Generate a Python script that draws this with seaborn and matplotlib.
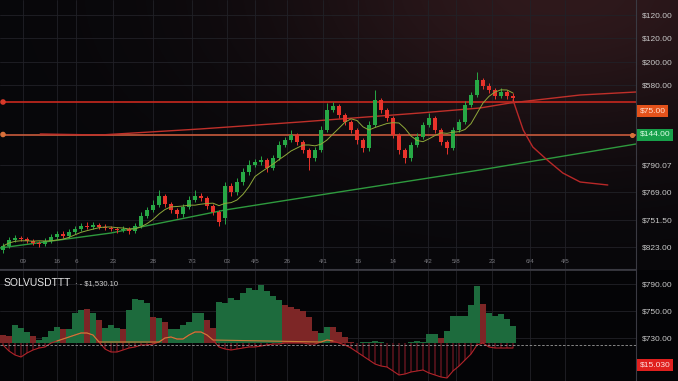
import numpy as np
import pandas as pd
import matplotlib
matplotlib.use("Agg")
import matplotlib.pyplot as plt
import seaborn as sns
from matplotlib.transforms import blended_transform_factory as btf

# ---------------- data (price levels in chart units) ----------------
opens = [18, 22, 28, 30, 29, 27, 25, 24, 27, 31,
         34, 32, 36, 39, 42, 41, 43, 41, 40, 39,
         38, 39, 37, 42, 52, 58, 63, 72, 64, 58,
         54, 61, 68, 72, 70, 62, 56, 50, 82, 76,
         86, 96, 103, 106, 108, 100, 110, 123, 128, 133,
         126, 118, 110, 118, 138, 158, 162, 153, 146, 138,
         128, 120, 143, 168, 158, 150, 133, 118, 110, 123,
         131, 143, 150, 138, 126, 120, 138, 146, 163, 173,
         188, 182, 178, 172, 176, 172]
closes = [22, 28, 30, 29, 27, 25, 24, 27, 31, 34,
          32, 36, 39, 42, 41, 43, 41, 40, 39, 38,
          39, 37, 42, 52, 58, 63, 72, 64, 58, 54,
          61, 68, 72, 70, 62, 56, 46, 82, 76, 86,
          96, 103, 106, 108, 100, 110, 123, 128, 133, 126,
          118, 110, 118, 138, 158, 162, 153, 146, 138, 128,
          120, 143, 168, 158, 150, 133, 118, 110, 123, 131,
          143, 150, 138, 126, 120, 138, 146, 163, 173, 188,
          182, 178, 172, 176, 172, 170]
highs = [25, 31, 33, 32, 31, 29, 27, 30, 34, 37,
         37, 39, 42, 45, 46, 46, 45, 44, 42, 41,
         42, 41, 45, 56, 61, 68, 78, 74, 66, 60,
         64, 72, 78, 75, 72, 64, 58, 86, 85, 90,
         100, 108, 109, 112, 110, 113, 127, 131, 138, 135,
         128, 120, 121, 142, 165, 166, 164, 155, 148, 140,
         130, 147, 178, 170, 160, 152, 135, 120, 126, 135,
         146, 155, 152, 140, 128, 141, 149, 167, 176, 196,
         190, 185, 180, 180, 178, 175]
lows = [15, 20, 26, 27, 25, 23, 21, 22, 25, 29,
        30, 30, 34, 37, 39, 39, 39, 38, 37, 35,
        36, 34, 35, 40, 50, 56, 61, 61, 55, 50,
        51, 59, 66, 67, 59, 53, 42, 44, 72, 73,
        83, 93, 101, 103, 96, 98, 108, 121, 126, 123,
        115, 98, 107, 116, 136, 156, 150, 143, 135, 124,
        116, 117, 141, 155, 147, 130, 114, 105, 107, 121,
        129, 141, 135, 123, 114, 118, 136, 144, 161, 171,
        179, 175, 169, 170, 169, 167]

slow_ma_x = [-0.5, 18, 37, 56, 79.5, 105.5]
slow_ma_y = [20, 35, 58, 76, 98, 124]

trend_x = [6.2, 16.2, 32.8, 49.5, 69.5, 79.5, 84.5, 96.2, 105.5]
trend_y = [134, 133, 139, 146, 155, 160, 165, 173, 176]

proj_x = [85, 86.7, 88.3, 90.7, 93.3, 96.2, 100.8]
proj_y = [168, 138, 121, 108, 95, 86, 83]

resistance_level = 166
support_level = 133.5

hist_vals = [8, 7, 18, 15, 11, 7, 3, 6, 12, 16,
             14, 14, 30, 33, 34, 30, 23, 15, 18, 15,
             14, 33, 44, 43, 40, 26, 25, 21, 14, 14,
             18, 21, 30, 30, 23, 15, 41, 40, 45, 43,
             50, 55, 53, 58, 52, 47, 43, 38, 36, 34,
             32, 26, 12, 10, 16, 16, 11, 6, 1, 0,
             1, 1, 2, 1, 0, 0, 0, 0, 1, 2,
             1, 9, 9, 5, 12, 27, 27, 27, 38, 57,
             39, 30, 27, 29, 24, 17]
hist_up = [0, 0, 1, 1, 1, 0, 1, 1, 1, 1,
           0, 1, 1, 1, 0, 1, 0, 1, 1, 1,
           0, 1, 1, 1, 1, 0, 1, 0, 1, 1,
           1, 1, 1, 1, 0, 0, 1, 1, 1, 1,
           1, 1, 1, 1, 1, 1, 1, 0, 0, 0,
           0, 0, 0, 1, 1, 0, 0, 0, 0, 1,
           1, 1, 1, 1, 1, 1, 1, 1, 1, 1,
           1, 1, 1, 0, 1, 1, 1, 1, 1, 1,
           0, 1, 1, 1, 1, 1]
osc_vals = [-2, -8, -12, -14, -10, -7, -5, -4, 0, 2,
            4, 6, 8, 10, 10, 8, 1, -6, -9, -9,
            -7, -5, -4, -2, -2, -1, 1, 5, 6, 4,
            4, 8, 11, 11, 8, 3, -4, -6, -7, -6,
            -5, -4, -4, -3, -2, -1, -1, 0, 0, 0,
            0, -1, -1, 1, 3, 2, 0, -2, -5, -9,
            -13, -17, -21, -23, -24, -28, -32, -31, -29, -28,
            -27, -30, -32, -34, -35, -28, -23, -17, -11, -2,
            0, -4, -5, -5, -5, -5]

main_tick_levels = [253, 230, 206, 183, 103, 76, 48, 21]
main_tick_labels = ["$120.00", "$120.00", "$200.00", "$580.00",
                    "$790.07", "$769.00", "$751.50", "$823.00"]
box_levels = [157, 133.5]
box_labels = ["$75.00", "$144.00"]

low_tick_levels = [59, 32, 5]
low_tick_labels = ["$790.00", "$750.00", "$730.00"]
low_box_level = -22
low_box_label = "$15.030"

x_tick_pos = [3.3, 9, 12.2, 18.3, 25, 31.5, 37.3, 42, 47.3, 53.3,
              59.2, 65, 70.8, 75.5, 81.5, 87.8, 93.7]
x_tick_labels = ["09", "16", "6", "23", "28", "7/3", "03", "4/5", "26", "4/1",
                 "16", "14", "4/2", "5/8", "23", "6/4", "4/5"]

title_text = "SOLVUSDTTT"
subtitle_text = "· - $1,530.10"

# ---------------- style ----------------
sns.set_theme(style="dark")
plt.rcParams["font.family"] = ["Liberation Sans", "DejaVu Sans"]

W, H = 678, 381
fig = plt.figure(figsize=(W / 100, H / 100), dpi=100)
fig.patch.set_facecolor("#060608")

# background glow
bg = fig.add_axes([0, 0, 1, 1], zorder=0)
yy, xx = np.mgrid[0:H, 0:W]
glow = np.exp(-(((xx - 560) / 280.0) ** 2 + ((yy + 10) / 150.0) ** 2))
base = np.array([7, 7, 10]) / 255.0
tint = np.array([40, 18, 18]) / 255.0
img = base + glow[..., None] * tint
img[yy >= 270] = np.array([4, 4, 6]) / 255.0
bg.imshow(np.clip(img, 0, 1), extent=[0, W, H, 0], aspect="auto")
bg.axis("off")

ax = fig.add_axes([0, 112 / H, 636 / W, 269 / H], zorder=1)
ax2 = fig.add_axes([0, 0, 636 / W, 111 / H], zorder=1)
for a in (ax, ax2):
    a.set_facecolor("none")
    a.set_xlim(-0.5, 105.5)
    for s in ("top", "left"):
        a.spines[s].set_visible(False)
    a.spines["right"].set_color("#3a3a42")
    a.spines["bottom"].set_color("#3a3a42")
    a.spines["right"].set_linewidth(0.8)
    a.spines["bottom"].set_linewidth(0.8)
    a.grid(True, color="#212127", linewidth=0.6)
    a.set_axisbelow(True)
ax2.spines["top"].set_visible(True)
ax2.spines["top"].set_color("#3a3a42")
ax2.spines["bottom"].set_visible(False)

ax.set_ylim(-1, 268)
ax2.set_ylim(-38, 73)

idx = np.arange(len(closes))
df = pd.DataFrame({"i": idx, "open": opens, "close": closes, "high": highs, "low": lows})
df["up"] = df["close"] >= df["open"]
df["fast"] = df["close"].rolling(6, min_periods=1).mean()

GREEN = "#27a845"
RED = "#e8332b"
ccol = np.where(df["up"], GREEN, RED)

# reference lines
sns.lineplot(x=[0, 105.5], y=[resistance_level] * 2, ax=ax, color="#c8281e", linewidth=1.2, zorder=2)
sns.lineplot(x=[0, 105.5], y=[support_level] * 2, ax=ax, color="#c85a3c", linewidth=1.2, zorder=2)
ax.scatter([0, 0], [resistance_level, support_level], s=9, color=["#d83a2a", "#d8703a"], zorder=3)
ax.scatter([104.8], [support_level], s=7, color="#d8703a", zorder=3)
sns.lineplot(x=trend_x, y=trend_y, ax=ax, color="#c0302a", linewidth=1.0, zorder=2, sort=False)
sns.lineplot(x=slow_ma_x, y=slow_ma_y, ax=ax, color="#2e9a3e", linewidth=1.0, zorder=2, sort=False)
sns.lineplot(x=proj_x, y=proj_y, ax=ax, color="#b82828", linewidth=1.0, zorder=2, sort=False)

# candles
ax.vlines(df["i"], df["low"], df["high"], colors=ccol, linewidth=0.7, zorder=4)
body = np.maximum(np.abs(df["close"] - df["open"]), 1)
ax.bar(df["i"], body, bottom=np.minimum(df["open"], df["close"]), width=0.8,
       color=ccol, linewidth=0, zorder=5)
sns.lineplot(data=df, x="i", y="fast", ax=ax, color="#8fa83a", linewidth=0.7, zorder=6)

ax.set_xlabel("")
ax.set_ylabel("")

# axis ticks main
ax.yaxis.tick_right()
ax.set_yticks(main_tick_levels)
ax.set_yticklabels(main_tick_labels)
ax.tick_params(axis="y", length=0, pad=4, labelsize=6, labelcolor="#c8c8c8")
ax.set_xticks(x_tick_pos)
ax.set_xticklabels(x_tick_labels)
ax.set_xticks(idx, minor=True)
ax.tick_params(axis="x", which="major", length=0, pad=-7.5, labelsize=4.5, labelcolor="#7a7a80")
ax.tick_params(axis="x", which="minor", direction="in", length=5, width=0.5, color="#55555c")

tr = btf(ax.transAxes, ax.transData)
ax.text(1.006, box_levels[0], box_labels[0], transform=tr, fontsize=6, color="#ffe0d0",
        va="center", ha="left", bbox=dict(boxstyle="square,pad=0.3", fc="#e4521b", ec="none"))
ax.text(1.006, box_levels[1], box_labels[1], transform=tr, fontsize=6, color="#e0ffe8",
        va="center", ha="left", bbox=dict(boxstyle="square,pad=0.3", fc="#17a04a", ec="none"))

# lower panel
hcol = np.where(np.array(hist_up) == 1, "#1d6b3d", "#7d2626")
ax2.bar(idx, hist_vals, width=0.86, color=hcol, linewidth=0, zorder=2)
osc = np.array(osc_vals, dtype=float)
ax2.bar(idx, np.minimum(osc, 0), width=0.35, color="#4a1018", linewidth=0, zorder=2)
sns.lineplot(x=idx, y=osc, ax=ax2, color="#b3242a", linewidth=0.8, zorder=3)
sns.lineplot(x=idx, y=np.where(osc > 0, osc, np.nan), ax=ax2, color="#c9803a", linewidth=0.8, zorder=4)
ax2.axhline(-2, color="#9a9a9a", linewidth=0.6, linestyle=(0, (3, 2)), zorder=3)
ax2.set_xlabel("")
ax2.set_ylabel("")
ax2.yaxis.tick_right()
ax2.set_yticks(low_tick_levels)
ax2.set_yticklabels(low_tick_labels)
ax2.tick_params(axis="y", length=0, pad=4, labelsize=6, labelcolor="#c8c8c8")
ax2.set_xticks(x_tick_pos)
ax2.tick_params(axis="x", which="major", length=0, labelbottom=False)
tr2 = btf(ax2.transAxes, ax2.transData)
ax2.text(1.006, low_box_level, low_box_label, transform=tr2, fontsize=6, color="#ffe0e0",
         va="center", ha="left", bbox=dict(boxstyle="square,pad=0.3", fc="#e0201e", ec="none"))
ax2.text(0.006, 0.88, title_text, transform=ax2.transAxes, fontsize=7.5, color="#e6e6e6",
         va="center", ha="left", zorder=6)
ax2.text(0.118, 0.88, subtitle_text, transform=ax2.transAxes, fontsize=5.5, color="#d0d0d0",
         va="center", ha="left", zorder=6)

fig.savefig("out.png", dpi=100, facecolor=fig.get_facecolor())
